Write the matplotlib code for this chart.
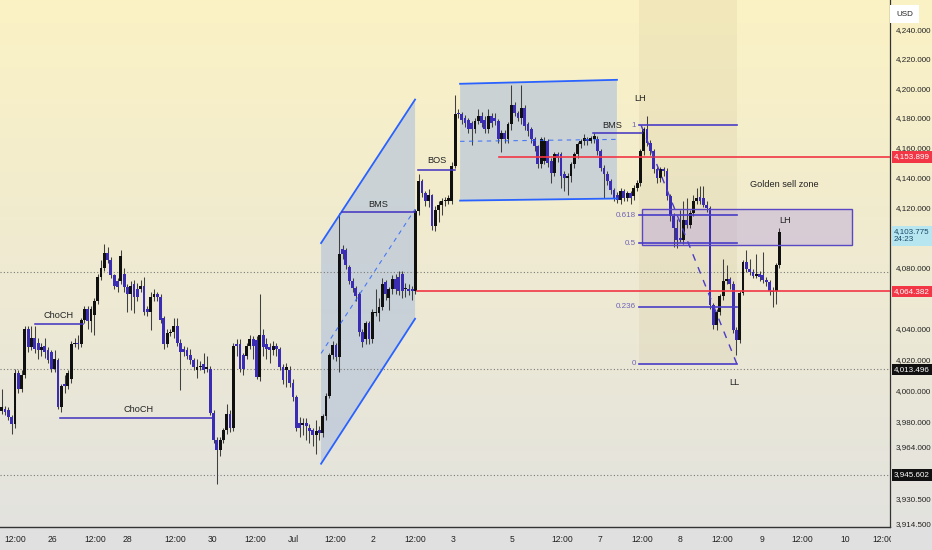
import numpy as np
import matplotlib
matplotlib.use("Agg")
import matplotlib.pyplot as plt
from matplotlib import font_manager
from matplotlib.patches import Polygon, Rectangle
from matplotlib.transforms import blended_transform_factory
from matplotlib.ticker import NullLocator, FixedLocator, FixedFormatter

# ---------------- data (hourly candles) ----------------
opens = [3986.7,3988,3987,3983,3978,4011,4001,4010,4040,4028,4034,4031,4026,4029,4026,4025,4014,4019.5,3989,4004,
         4003,4007,4030,4031,4030,4046,4053,4045,4049,4058,4074,4080,4090,4085,4075,4071,4071,4076,4067,4062.5,
         4069,4066,4066,4068,4053,4051,4061,4062.5,4061,4047,4030,4037,4038,4042,4031,4027,4026,4023,4019.5,4013,
         4015,4017,4014,4014,3985.6,3968,3961.6,3968,3974.7,3984.5,3976,4030,4030,4022.7,4022,4029,4033.6,4032.6,4008.5,4036,
         4030,4028,4026,4029,4027,4015,4012.9,4013,4005,3995.4,3979,3977.9,3979,3975.8,3974.7,3971.4,3974.7,3972.5,3983.4,3996.5,
         4022.7,4029.3,4021.6,4092.7,4091.6,4080.4,4071.4,4066.9,4062.5,4038,4033.6,4043.5,4033.6,4050,4050,4054.5,4070.3,4060.2,4065.8,4072.6,
         4073.6,4075.9,4065.8,4065.8,4065.8,4064.5,4117.3,4137.5,4129.7,4124,4128,4107.3,4118.5,4121.8,4124,4124.5,4124,4147.6,4183.4,4182.3,
         4180,4178.9,4176.7,4172.2,4177.9,4181.2,4178.9,4172.2,4181.2,4180,4177.9,4165.5,4170,4165.5,4175.6,4189,4183.4,4180,4186.8,4175.6,
         4172.2,4165.5,4161,4148.7,4151,4164.4,4151,4143.1,4155.4,4155.4,4142,4139.8,4140.9,4148.7,4155.4,4162.1,4164.4,4165.5,4164.4,4165.5,
         4165.5,4157.7,4146.5,4142,4137.5,4131.9,4128.5,4125.2,4130.8,4126.3,4129.7,4127.4,4133,4136.4,4157.7,4172.2,4163.3,4157.7,4145.3,4139.8,
         4145.3,4144.3,4127.4,4114,4106.2,4099.5,4098.3,4111.7,4108.4,4116.2,4124,4127,4126.3,4121.8,4119.6,4055.5,4042.4,4051.1,4061.3,4071.4,
         4072.6,4069.2,4039.1,4032.6,4063.6,4083.7,4079.3,4077,4074.8,4075.9,4075,4072,4070.3,4064,4064.7,4081.5]
highs = [4001,3990,3989,3984,4014,4013,4013,4042,4042,4042,4042,4034,4031,4034,4028,4026,4026,4021,4004,4010,
         4013,4032,4034,4036,4047,4055,4055,4055,4060,4076,4085,4096,4094,4087,4076,4073,4092,4080,4069,4071,
         4072,4070,4072,4074,4055,4064,4066,4064,4063,4048,4040,4040,4047,4047,4033,4029,4028,4027,4021,4020,
         4019,4024,4022,4016,3987,3970,3970,3976,3991,3987,4031,4033,4033,4024,4031,4036,4035,4035,4062.5,4040,
         4034,4031,4032,4031,4028,4017,4018,4016,4007,3997,3983,3982,3982,3978,3976,3981,3977,3985,3998,4024,
         4032,4031,4116,4095,4093,4082,4073,4068,4064,4040,4045,4045,4053,4066,4060,4073,4072,4067,4075,4076,
         4078,4078,4070,4069,4068,4119,4142,4139,4131,4132,4129,4121,4124,4126,4127,4128,4150,4195.7,4186,4184,
         4182,4180,4178,4180,4186,4184,4181,4186,4183,4183,4179,4172,4172,4177,4202.5,4191,4185,4202.5,4189,4177,
         4174,4167,4162,4167,4167,4166,4153,4157,4157,4157,4144,4143,4150,4157,4164,4166,4169,4167,4168,4170,
         4168,4159,4148,4144,4139,4133,4130,4133,4132,4131,4131,4135,4138,4159,4174,4181.2,4165,4159,4147,4147,
         4147,4146,4129,4116,4112,4118.5,4124,4126,4118,4128,4133,4134,4134,4124,4121,4057,4053,4063,4086,4082,
         4074,4071,4041,4065,4085,4091.6,4086,4079,4089.4,4078,4090.4,4074,4072,4067,4083,4106]
lows = [3985,3984,3981,3972,3976,3998,3999,4008,4025,4026,4024,4020,4022,4021,4018,4012,4012,3988,3986,3998,
        4001,4005,4028,4027,4028,4044,4040,4038,4036,4056,4072,4078,4083,4073,4066,4064,4069,4064,4051,4052,
        4050,4058,4064,4049,4048,4039,4058,4058,4044,4027,4028,4035,4034,4029,4000,4022,4020,4017,4013,4008,
        4013,4011,4012,3984,3966,3940,3958,3966,3972,3973,3974,4022,4012,4010,4020,4027,4020,4007,4006,4022,
        4020,4018,4023,4022,4013,4004,4002,4002,3993,3974,3970,3971,3968,3966,3964,3959,3968,3970,3981,3995,
        4020,4019,4011.8,4086,4079,4069,4064,4058,4035,4028,4030,4030,4031,4048,4045,4052,4059,4052,4063,4063,
        4062,4060,4061,4062,4059,4063,4115,4127,4121,4120,4105,4104,4110,4115,4121,4122,4122,4146,4180,4176,
        4174,4170,4162,4170,4176,4174,4170,4170,4174,4175,4163,4157,4163,4163,4172,4181,4178,4176,4172,4168,
        4163,4158,4146,4146,4149,4147,4136,4141,4150,4133,4131,4128.5,4137,4146,4153,4160,4162,4162,4163,4163,
        4155,4144,4126,4135,4129,4124,4123,4122,4124,4124,4122,4125,4131,4134,4155,4161,4155,4143,4136,4137,
        4141,4125,4111,4093.8,4093,4097,4096,4106,4106,4114,4122,4122,4120,4117,4053,4040,4039,4049,4059,4069,
        4066,4037,4022.7,4031,4062,4077,4075,4073,4073,4071,4070,4068,4062,4054.4,4056,4080]
closes = [3989,3986,3983,3978,4011,4001,4010,4040,4028,4034,4027,4026,4028,4025,4019.5,4014,4020.5,3989,4003,4003,
          4011,4030,4031,4030,4046,4053,4045,4053,4058,4074,4080,4090,4085,4075,4068,4067,4088,4067,4062.5,4068,
          4061,4061,4068,4051,4051,4061,4062.5,4061,4046,4030,4037,4038,4042,4031,4025,4025,4022,4019.5,4015,4015,
          4016,4013,4015,3985.6,3968,3961.6,3968,3974.7,3984.5,3975.8,4029,4029,4014,4014,4029,4033.6,4029,4008.5,4036,4028,
          4027,4026,4029,4027,4015,4006.4,4015,4005,3995.4,3975.8,3975.8,3979,3977,3973.6,3971.4,3973.6,3972.5,3983.4,3996.5,4022.7,
          4029.3,4021.6,4089.4,4089.4,4081.5,4071.4,4066.9,4061.3,4038,4031.4,4043.5,4033.6,4051.1,4051,4054.5,4069.2,4062.5,4065.8,4072.6,4065.8,
          4064.7,4064.7,4066.9,4064.7,4064.5,4117.4,4137.5,4129.7,4124,4128,4107.3,4118.5,4121.8,4124,4125.2,4126.3,4147.6,4182.3,4182.3,4178.9,
          4176.7,4172.2,4172.2,4177.9,4181.2,4176.7,4172.2,4181.2,4176.7,4177.9,4165.5,4170,4165.5,4175.6,4189,4183.4,4180,4186.8,4174.5,4171.1,
          4165.5,4161,4148.7,4165.5,4164.4,4149.8,4143.1,4155.4,4153.2,4140.9,4139.8,4140.9,4148.7,4155.4,4162.1,4164.4,4166.6,4164.4,4166.3,4167.7,
          4157.7,4146.5,4142,4137.5,4131.9,4126.3,4125.2,4130.8,4126.3,4129.7,4126.3,4133,4136.4,4157.7,4172.2,4163.3,4157.7,4145.3,4139.8,4145.3,
          4144.3,4127.4,4114,4106.2,4098.3,4098.3,4111.7,4108.4,4116.2,4124,4126.3,4124,4121.8,4119.6,4055.5,4042.4,4051.1,4061.3,4071.4,4072.6,
          4069.2,4039.1,4032.6,4063.6,4083.7,4079.3,4077,4074.8,4075.9,4073.6,4072,4070.3,4064.7,4064.7,4081.5,4103.775]

# axis ticks
x_tick_pos = [4.0, 15.2, 28.2, 37.9, 52.4, 63.8, 76.5, 88.0, 100.7, 112.2, 124.9, 136.3, 154.2,
              169.3, 180.8, 193.4, 204.9, 217.6, 229.7, 241.8, 254.8, 266.4]
x_tick_labels = ['12:00', '26', '12:00', '28', '12:00', '30', '12:00', 'Jul', '12:00', '2', '12:00', '3', '5',
                 '12:00', '7', '12:00', '8', '12:00', '9', '12:00', '10', '12:00']
y_tick_vals = [4240, 4220, 4200, 4180, 4160, 4140, 4120, 4080, 4040, 4020, 4000, 3980, 3964, 3930.5, 3914.5]

# horizontal price levels
red_levels = [4153.899, 4064.382]
red_starts = [150.2, 125.4]
dotted_levels = [4077.0, 4013.496, 3945.602]
last_price = 4103.775
countdown = '24:23'

# drawings (candle index, price)
choch_upper = ([10.1, 24.6], 4043.4)
choch_lower = ([17.6, 63.8], 3981.9)
channel_x = [96.5, 124.9]
channel_top = [4096.3, 4192.4]
channel_bot = [3952.8, 4046.5]
bms1 = ([102.8, 124.9], 4116.6)
bos = ([125.8, 137.0], 4144.7)
range_x = [138.5, 185.9]
range_top = [4203.1, 4205.8]
range_bot = [4124.5, 4125.9]
range_mid = [4164.2, 4165.5]
bms2 = ([178.6, 193.4], 4169.5)
fib_x = [192.6, 222.1]
fib_names = ['1', '0.618', '0.5', '0.236', '0']
fib_prices = [4175.0, 4114.7, 4096.1, 4054.4, 4017.2]
golden_x = [193.5, 256.8]
golden_y = [4094.9, 4119.1]

# ---------------- style ----------------
names = {f.name for f in font_manager.fontManager.ttflist}
if 'Liberation Sans Narrow' in names:
    FONT, AX_FS, LAB_FS = 'Liberation Sans Narrow', 6.6, 7.2
elif 'Liberation Sans' in names:
    FONT, AX_FS, LAB_FS = 'Liberation Sans', 5.8, 6.6
else:
    FONT, AX_FS, LAB_FS = 'DejaVu Sans', 5.1, 6.0
plt.rcParams['font.family'] = [FONT, 'DejaVu Sans']

UP = '#101010'
DOWN = '#3a2db4'
WICK = '#404040'
BLUE = '#2962ff'
INDIGO = '#3f30c0'
RED = '#f23645'
TXT = '#222222'

W, H = 932, 550
fig = plt.figure(figsize=(W / 100, H / 100), dpi=100)

# background gradient
bg = fig.add_axes([0, 0, 1, 1])
bg.set_axis_off()
top = np.array([251, 242, 196]) / 255
bot = np.array([226, 226, 224]) / 255
t = np.linspace(0, 1, 256)[:, None]
grad = top[None, :] * (1 - t) + bot[None, :] * t
bg.imshow(grad[:, None, :].repeat(4, axis=1), aspect='auto', extent=[0, 1, 0, 1], origin='upper')
bg.set_xlim(0, 1); bg.set_ylim(0, 1)
bg.add_patch(Rectangle((0, 0), 1, 23 / H, color='#e0e0e0', zorder=2))

ax = fig.add_axes([0, 23 / H, 890 / W, 527 / H])
ax.set_zorder(1)
ax.patch.set_alpha(0)
ax.set_yscale('log')
ax.set_ylim(3912.6, 4260.4)
ax.set_xlim(-0.51, 268.4)

n = len(opens)
xs = np.arange(n)
o = np.array(opens); c = np.array(closes); h = np.array(highs); l = np.array(lows)
up = c >= o
# fib background band
ax.fill_between(fib_x, fib_prices[-1], 4300, color='#d2c49a', alpha=0.22, lw=0, zorder=0.5)
# channel
ax.add_patch(Polygon([(channel_x[0], channel_top[0]), (channel_x[1], channel_top[1]),
                      (channel_x[1], channel_bot[1]), (channel_x[0], channel_bot[0])],
                     closed=True, fc='#b9c7da', alpha=0.7, ec='none', zorder=1))
ax.plot(channel_x, channel_top, color=BLUE, lw=1.3, zorder=4)
ax.plot(channel_x, channel_bot, color=BLUE, lw=1.3, zorder=4)
mid = np.sqrt(np.array(channel_top) * np.array(channel_bot))
ax.plot(channel_x, mid, color=BLUE, lw=0.8, ls=(0, (4, 4)), alpha=0.8, zorder=4)
# range box
ax.add_patch(Polygon([(range_x[0], range_top[0]), (range_x[1], range_top[1]),
                      (range_x[1], range_bot[1]), (range_x[0], range_bot[0])],
                     closed=True, fc='#b9c7da', alpha=0.7, ec='none', zorder=1))
ax.plot(range_x, range_top, color=BLUE, lw=1.3, zorder=4)
ax.plot(range_x, range_bot, color=BLUE, lw=1.3, zorder=4)
ax.plot(range_x, range_mid, color=BLUE, lw=0.8, ls=(0, (4, 4)), alpha=0.8, zorder=4)
# golden sell zone
ax.add_patch(Rectangle((golden_x[0], golden_y[0]), golden_x[1] - golden_x[0], golden_y[1] - golden_y[0],
                       fc='#b9a6dc', alpha=0.45, ec='none', zorder=1))
ax.add_patch(Rectangle((golden_x[0], golden_y[0]), golden_x[1] - golden_x[0], golden_y[1] - golden_y[0],
                       fc='none', ec='#5a47c4', lw=1.0, zorder=4))

# dotted levels
for lv in dotted_levels:
    ax.axhline(lv, color='#7a7a7a', lw=0.8, ls=(0, (1, 2)), zorder=1.5)

# candles
body_lo = np.minimum(o, c)
body_h = np.maximum(np.abs(c - o), 0.7)
ax.vlines(xs, l, h, colors=WICK, lw=0.75, zorder=2)
ax.bar(xs[up], body_h[up], bottom=body_lo[up], width=0.86, color=UP, lw=0, zorder=3)
ax.bar(xs[~up], body_h[~up], bottom=body_lo[~up], width=0.86, color=DOWN, lw=0, zorder=3)

# red lines
for lv, s in zip(red_levels, red_starts):
    ax.plot([s, 268.4], [lv, lv], color=RED, lw=1.2, zorder=4)

# structure lines
for (xx, yy) in [choch_upper, choch_lower, bms1, bos, bms2]:
    ax.plot(xx, [yy, yy], color=INDIGO, lw=1.1, zorder=4)

# fib levels
for nm, pr in zip(fib_names, fib_prices):
    ax.plot(fib_x, [pr, pr], color='#4a3cc6', lw=1.2, zorder=4)
    ax.text(fib_x[0] - 0.9, pr, nm, ha='right', va='center', fontsize=AX_FS, color='#6f63b8', zorder=5)
ax.plot([fib_x[0] + 0.6, fib_x[1]], [fib_prices[0], fib_prices[-1]], color='#4a3cc6', lw=1.0,
        ls=(0, (5, 5)), zorder=4)

# labels
lab = dict(fontsize=LAB_FS, color=TXT, zorder=6, ha='center')
ax.text(17.3, 4046.0, 'ChoCH', va='bottom', **lab)
ax.text(41.5, 3984.5, 'ChoCH', va='bottom', **lab)
ax.text(113.7, 4119.0, 'BMS', va='bottom', **lab)
ax.text(131.5, 4148.0, 'BOS', va='bottom', **lab)
ax.text(184.5, 4172.0, 'BMS', va='bottom', **lab)
ax.text(192.9, 4190.0, 'LH', va='bottom', **lab)
ax.text(221.5, 4005.2, 'LL', va='center', **lab)
ax.text(236.6, 4135.3, 'Golden sell zone', va='center', **lab)
ax.text(236.6, 4111.0, 'LH', va='center', **lab)

# axes styling
for s in ['top', 'left']:
    ax.spines[s].set_visible(False)
ax.spines['right'].set_color('#333333'); ax.spines['right'].set_linewidth(0.9)
ax.spines['bottom'].set_color('#333333'); ax.spines['bottom'].set_linewidth(1.0)
ax.yaxis.tick_right()
ax.yaxis.set_major_locator(FixedLocator(y_tick_vals))
ax.yaxis.set_major_formatter(FixedFormatter([f'{v:,.3f}' for v in y_tick_vals]))
ax.yaxis.set_minor_locator(NullLocator())
ax.tick_params(axis='y', length=0, pad=4, labelsize=AX_FS, labelcolor='#222222')
ax.set_xticks(x_tick_pos)
ax.set_xticklabels(x_tick_labels)
ax.tick_params(axis='x', length=0, pad=6, labelsize=AX_FS + 0.4, labelcolor='#222222')
ax.xaxis.set_minor_locator(NullLocator())

# right-axis price boxes
tr = blended_transform_factory(ax.transAxes, ax.transData)
def price_box(val, text, fc, tc):
    ax.text(1.0045, val, text, transform=tr, ha='left', va='center', fontsize=AX_FS, color=tc,
            zorder=10, clip_on=False, linespacing=1.3,
            bbox=dict(boxstyle='square,pad=0.3', fc=fc, ec='none'))
price_box(red_levels[0], f'{red_levels[0]:,.3f}', RED, 'white')
price_box(last_price - 2.6, f'{last_price:,.3f}\n{countdown}', '#b8e6f0', '#174a6a')
price_box(red_levels[1], f'{red_levels[1]:,.3f}', RED, 'white')
price_box(dotted_levels[1], f'{dotted_levels[1]:,.3f}', '#111111', 'white')
price_box(dotted_levels[2], f'{dotted_levels[2]:,.3f}', '#111111', 'white')

# USD box and clipping of axis corner
fig.text(896 / W, 1 - 14 / H, 'USD', ha='left', va='center', fontsize=AX_FS, color='#222222', zorder=12,
         bbox=dict(boxstyle='square,pad=0.7', fc='white', ec='none'))
fig.patches.append(Rectangle((891 / W, 0), 41 / W, 22.5 / H, transform=fig.transFigure,
                             fc='#e0e0e0', ec='none', zorder=11))

fig.savefig('out.png', dpi=100)
